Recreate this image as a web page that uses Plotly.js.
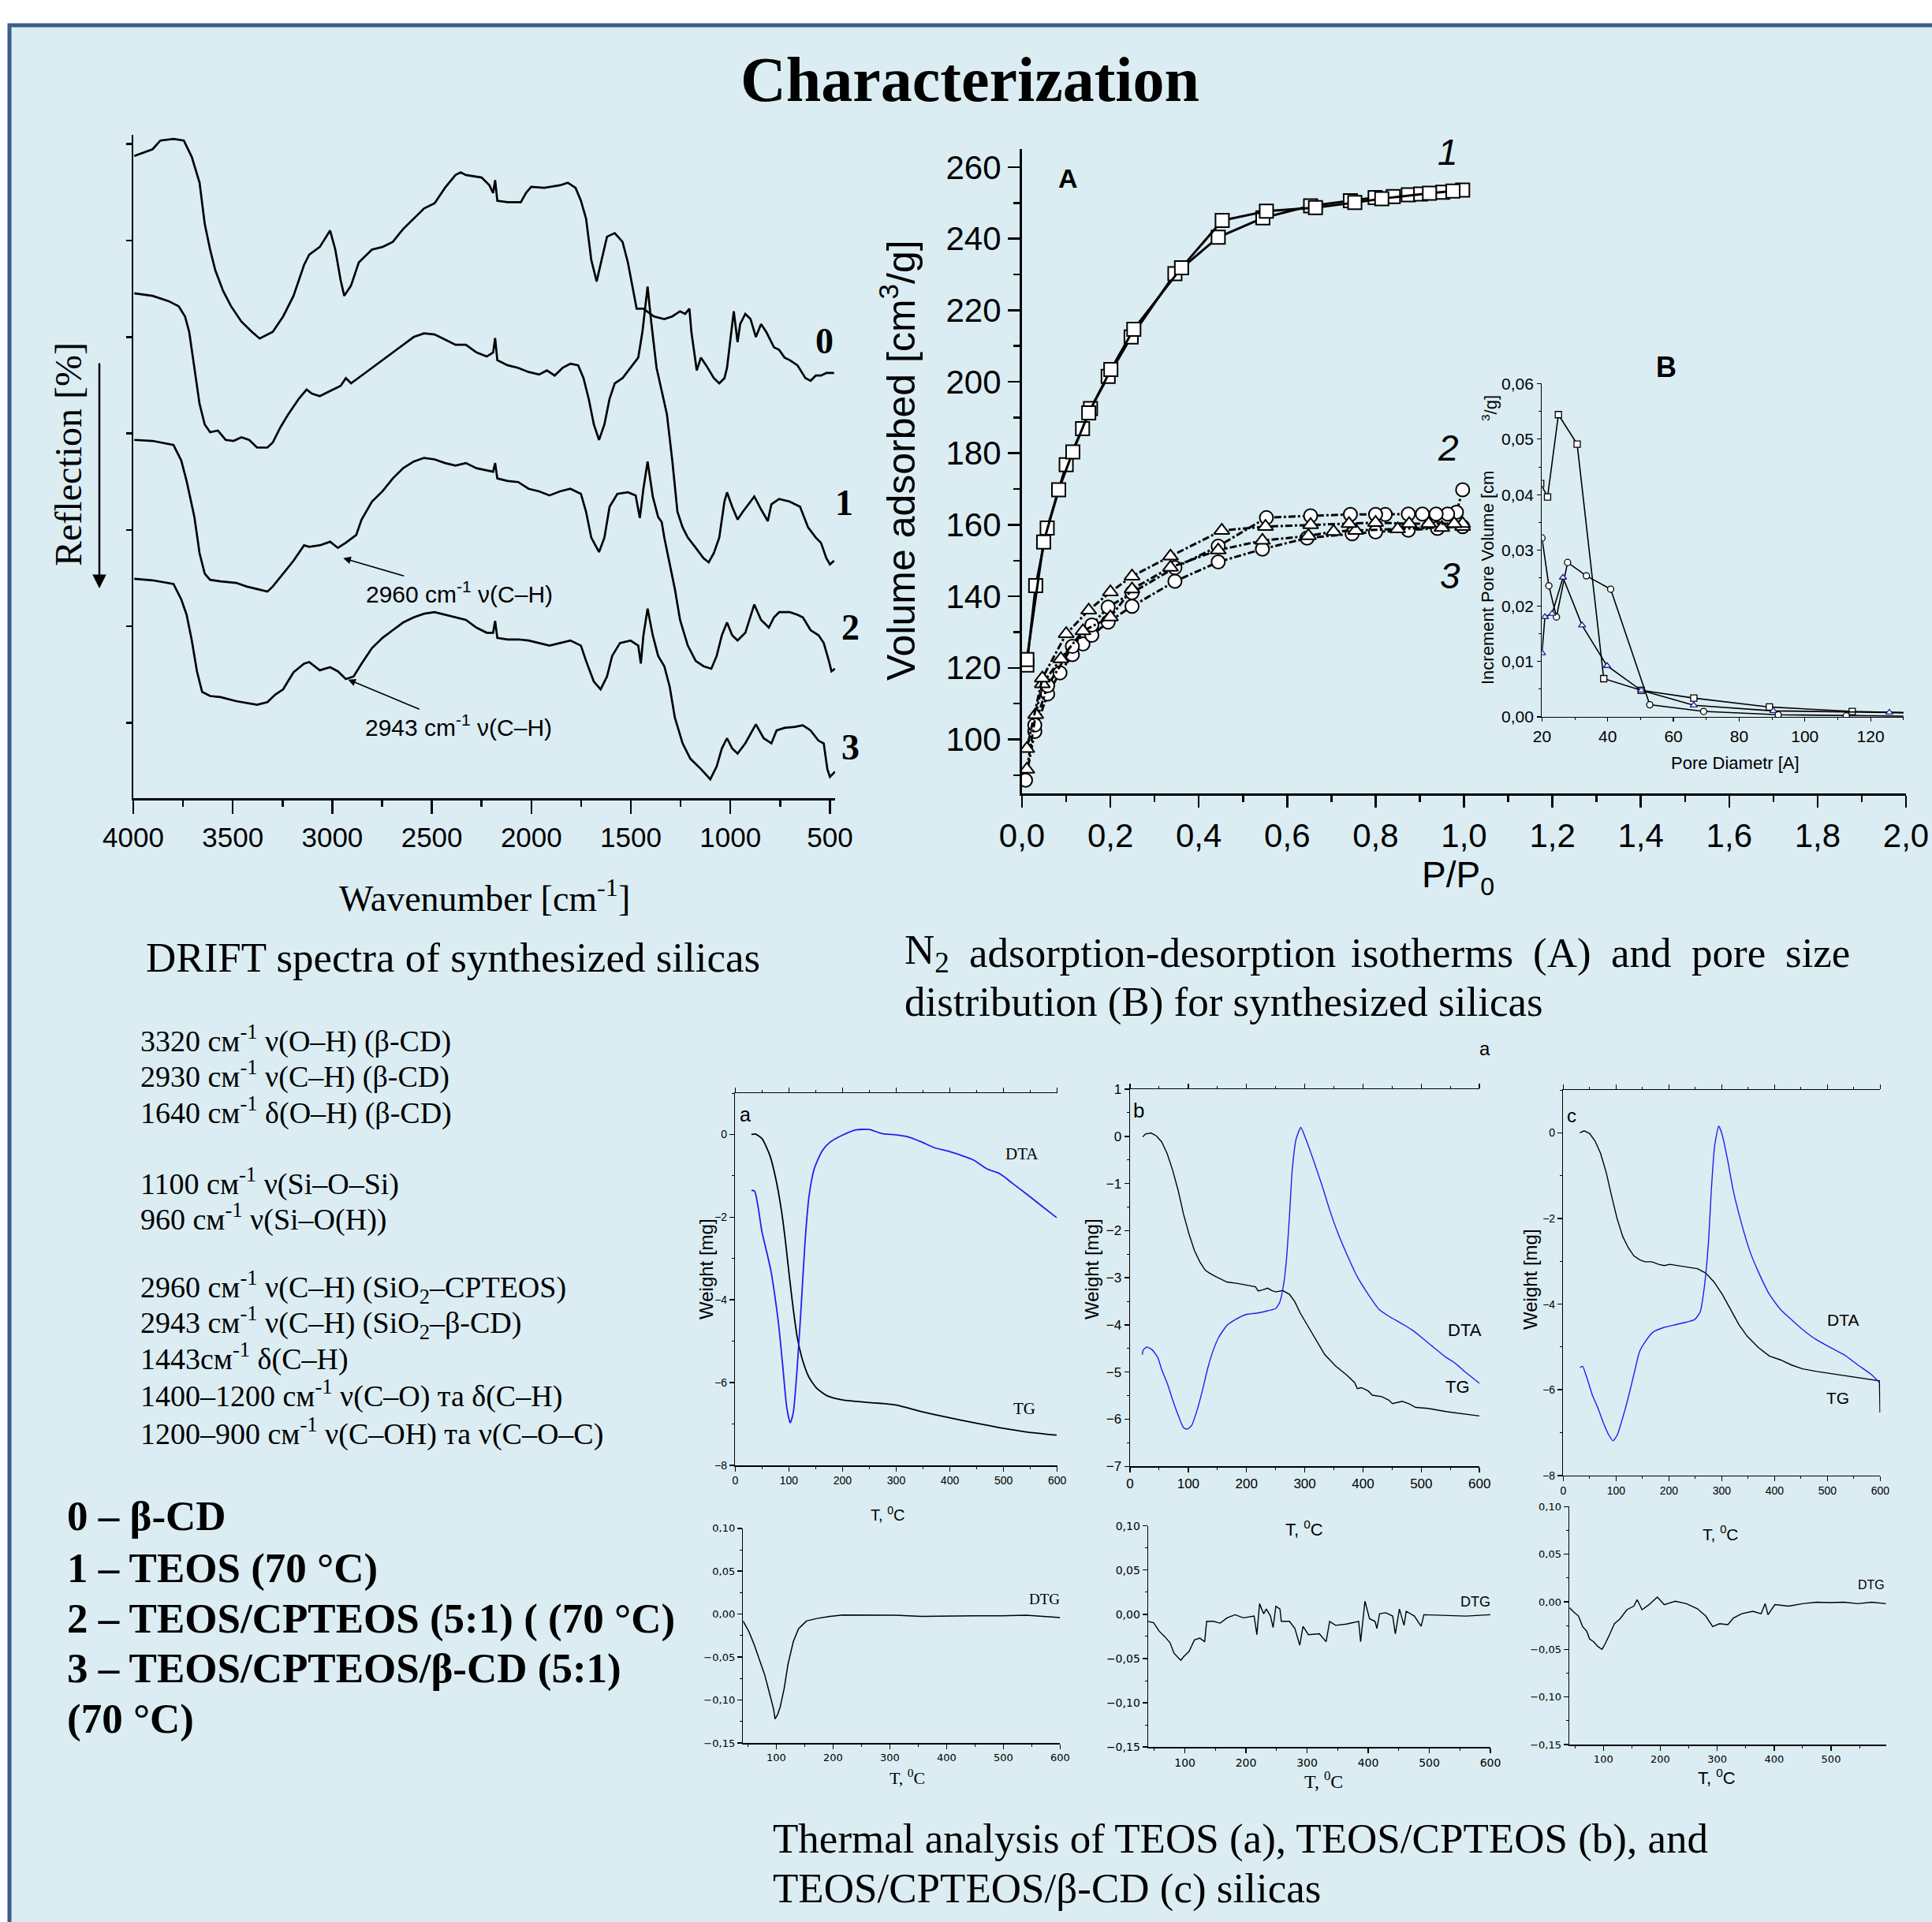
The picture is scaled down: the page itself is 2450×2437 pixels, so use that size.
<!DOCTYPE html>
<html><head><meta charset="utf-8">
<script src="https://cdn.plot.ly/plotly-3.0.1.min.js"></script>
<style>html,body{margin:0;padding:0;background:#fff}#chart{width:2450px;height:2437px}</style>
</head><body><div id="chart"></div>
<script>
// ===== DRIFT spectra (wavenumber, reflection a.u.) =====
const wn0 = [3995,3903,3864,3798,3746,3732,3706,3667,3641,3614,3588,3549,3509,3457,3404,3365,3299,3247,3195,3142,3116,3063,3011,2985,2958,2940,2906,2867,2840,2801,2748,2696,2644,2591,2539,2486,2434,2381,2355,2329,2250,2211,2192,2182,2171,2119,2053,2027,2001,1935,1856,1817,1778,1751,1725,1699,1672,1647,1620,1581,1542,1515,1489,1471,1437,1384,1332,1292,1253,1227,1206,1196,1169,1148,1122,1083,1056,1030,1017,983,964,951,925,899,872,846,820,781,755,728,702,663,623,597,571,545,518,479];
const refl0 = [1249,1262,1279,1282,1279,1267,1247,1197,1117,1067,1027,987,957,927,907,894,907,937,977,1037,1057,1072,1104,1067,1007,977,997,1042,1052,1067,1072,1082,1107,1127,1147,1157,1187,1212,1217,1212,1207,1192,1177,1202,1162,1159,1159,1177,1189,1187,1192,1197,1187,1162,1127,1047,1005,1047,1092,1099,1082,1042,987,952,952,937,932,937,947,942,952,907,832,857,842,817,807,817,837,947,887,922,942,932,897,922,907,877,872,857,852,842,817,812,822,822,827,827];
const wn1 = [3995,3903,3824,3772,3740,3719,3693,3667,3641,3614,3575,3536,3496,3457,3418,3378,3326,3299,3260,3221,3168,3129,3103,3063,3011,2958,2932,2906,2853,2801,2748,2696,2644,2591,2539,2486,2434,2381,2329,2276,2224,2192,2182,2171,2119,2066,2014,1961,1922,1883,1843,1804,1765,1738,1712,1686,1660,1633,1607,1581,1542,1502,1463,1442,1416,1398,1371,1345,1319,1292,1266,1240,1214,1174,1135,1109,1083,1056,1030,1017,991,964,938,899,880,846,812,794,755,702,650,610,571,545,518,500,479];
const refl1 = [982,977,967,957,937,907,837,767,727,712,715,697,695,702,697,682,682,692,722,747,777,795,787,782,792,802,817,807,822,837,852,867,882,897,904,902,892,882,882,867,859,867,895,852,842,837,829,824,832,822,837,845,842,817,777,727,697,727,777,807,817,837,857,907,995,927,837,792,747,657,557,527,507,487,467,459,477,507,577,595,567,542,557,577,587,562,539,572,582,577,567,527,507,497,467,455,462];
const wn2 = [3995,3903,3798,3759,3732,3693,3667,3641,3614,3562,3483,3431,3378,3326,3299,3247,3195,3142,3116,3063,3011,2972,2932,2880,2853,2801,2748,2696,2644,2591,2539,2486,2434,2381,2329,2276,2224,2192,2182,2171,2119,2066,2014,1961,1909,1856,1804,1751,1725,1699,1660,1633,1607,1568,1515,1476,1455,1437,1416,1390,1363,1345,1332,1305,1279,1253,1214,1174,1135,1096,1069,1043,1017,991,964,925,880,846,807,781,755,702,663,636,597,557,531,505,492,474];
const refl2 = [697,695,687,657,617,547,477,437,425,422,419,412,407,402,412,437,462,492,489,492,499,487,497,512,542,577,597,622,642,655,662,659,652,647,652,642,637,635,652,622,617,615,602,597,589,597,602,592,557,507,479,507,567,592,595,589,545,602,655,587,547,537,507,457,407,347,297,267,257,252,277,317,342,317,307,322,377,347,332,352,362,362,357,352,327,317,302,267,247,252];
const wn3 = [3995,3903,3798,3759,3732,3706,3680,3654,3614,3562,3483,3431,3378,3326,3286,3247,3195,3142,3116,3063,3011,2972,2932,2893,2853,2801,2748,2696,2644,2591,2539,2486,2434,2381,2329,2276,2224,2192,2182,2171,2119,2066,2014,1961,1909,1856,1804,1751,1725,1686,1652,1620,1594,1555,1502,1463,1450,1437,1416,1390,1363,1332,1305,1279,1240,1201,1148,1101,1069,1043,1017,991,964,925,872,833,794,768,728,676,636,597,557,531,513,500,474];
const refl3 = [427,424,417,387,357,307,247,207,199,197,189,185,182,187,202,212,245,262,265,249,255,247,232,237,262,292,312,327,342,352,359,362,357,352,347,332,322,322,345,312,309,309,307,302,297,302,307,297,267,227,212,237,277,302,307,297,262,317,369,317,277,257,217,157,107,77,57,37,62,97,117,97,87,107,144,117,107,132,137,139,142,132,112,107,57,42,52];

// ===== N2 isotherms (P/P0, volume cm3/g) =====
const p1a = [0.011,0.031,0.057,0.100,0.137,0.155,0.195,0.247,0.346,0.444,0.545,0.653,0.743,0.799,0.840,0.874,0.902,0.952,0.997];
const v1a = [120.8,143.0,159.1,176.8,186.9,192.5,201.5,212.5,230.2,240.4,245.8,249.2,250.6,251.5,251.8,252.3,252.5,253.0,253.6];
const p1d = [0.975,0.922,0.814,0.753,0.664,0.553,0.453,0.361,0.253,0.201,0.151,0.115,0.083,0.049,0.011];
const v1d = [253.3,252.7,251.2,250.1,248.7,247.7,245.1,231.9,214.7,203.4,191.3,180.4,169.8,155.2,122.3];
const p2a = [0.008,0.029,0.058,0.086,0.114,0.138,0.158,0.195,0.249,0.346,0.444,0.544,0.645,0.747,0.800,0.874,0.940,0.997];
const v2a = [88.6,102.2,112.7,118.6,123.7,126.7,129.1,132.8,137.2,144.2,149.6,153.2,156.3,157.5,158.0,158.5,159.0,159.5];
const p2d = [0.997,0.983,0.963,0.937,0.906,0.874,0.822,0.800,0.743,0.653,0.553,0.444,0.346,0.249,0.195,0.158,0.114,0.058,0.029];
const v2d = [169.8,163.5,163.0,163.0,163.0,163.0,162.9,162.9,162.9,162.5,162.0,154.0,148.0,141.0,137.0,132.0,126.0,115.0,104.0];
const p3a = [0.011,0.031,0.046,0.088,0.138,0.200,0.249,0.336,0.444,0.544,0.648,0.705,0.755,0.850,0.950,0.997];
const v3a = [91.6,106.9,115.5,122.5,130.3,134.2,142.0,148.1,152.9,155.6,156.9,158.1,158.4,158.8,159.2,159.5];
const p3d = [0.997,0.978,0.920,0.876,0.800,0.740,0.653,0.551,0.452,0.336,0.249,0.200,0.151,0.100,0.046,0.011];
const v3d = [160.3,160.3,160.3,160.3,160.6,160.3,160.0,159.5,158.4,151.2,145.6,141.2,136.1,129.5,117.1,97.4];

// ===== Pore size distribution (diameter A, increment volume) =====
const d1 = [19.6,21.7,25.0,30.7,38.8,50.2,66.2,89.2,114.4,135];
const inc1 = [0.0420,0.0396,0.0544,0.0491,0.0069,0.0048,0.0034,0.0018,0.0010,0.0007];
const d2 = [20,22.1,24.4,27.8,33.5,40.9,52.8,69.2,91.9,112.6,140];
const inc2 = [0.0322,0.0236,0.0180,0.0278,0.0254,0.0230,0.0022,0.0010,0.0004,0.0002,0.0001];
const d3 = [20,20.9,23.1,26.4,32.2,39.8,50.2,66.2,90.4,125.7,140];
const inc3 = [0.0115,0.0180,0.0186,0.0251,0.0165,0.0092,0.0048,0.0021,0.0011,0.0008,0.0007];

// ===== Thermal analysis =====
const tA_tg = [30.2,37.5,49.7,64.3,76.5,86.3,93.6,100.9,108.2,115.5,125.3,137.4,152.1,171.6,200.8,249.5,298.3,347.0,395.8,444.5,493.2,542.0,599.0];
const wA_tg = [0,0.01,-0.10,-0.50,-1.13,-1.86,-2.59,-3.44,-4.23,-4.90,-5.45,-5.87,-6.14,-6.32,-6.42,-6.48,-6.54,-6.70,-6.84,-6.97,-7.09,-7.19,-7.27];
const tA_dta = [30.2,36.1,42.4,49.7,59.5,66.8,74.1,81.4,88.7,96.0,102.4,108.2,115.5,122.8,130.1,137.4,147.2,161.8,176.4,200.8,225.2,249.5,273.9,298.3,322.7,347.0,371.4,395.8,420.1,444.5,468.9,493.2,517.6,542.0,566.3,599.0];
const wA_dta = [-1.35,-1.37,-1.74,-2.35,-2.89,-3.32,-3.93,-4.66,-5.63,-6.60,-6.97,-6.72,-5.63,-4.17,-2.59,-1.50,-0.83,-0.40,-0.19,-0.01,0.11,0.12,0.02,-0.01,-0.06,-0.18,-0.32,-0.40,-0.50,-0.62,-0.83,-0.95,-1.19,-1.43,-1.68,-2.01];
const tA_dtg = [41.5,51.6,60.8,70.0,79.3,88.5,95.4,97.7,102.3,106.9,113.8,120.7,130.0,139.2,153.0,171.4,194.5,217.5,263.6,309.7,355.8,401.8,447.9,494.0,540.1,600];
const vA_dtg = [-0.008,-0.020,-0.035,-0.052,-0.070,-0.093,-0.111,-0.122,-0.117,-0.108,-0.087,-0.058,-0.032,-0.017,-0.008,-0.005,-0.0025,-0.001,-0.0013,-0.0013,-0.0025,-0.002,-0.002,-0.002,-0.0013,-0.004];

const tB_tg = [21.9,26.6,35.9,45.2,54.5,63.9,73.2,82.5,91.8,101.2,110.5,119.8,129.1,136.1,147.8,166.4,185.1,203.7,215.4,220.0,227.0,236.4,243.4,250.3,262.0,273.7,283.0,292.3,306.3,320.3,334.3,352.9,371.6,385.5,390.2,397.2,408.9,415.9,432.2,443.8,450.8,467.1,478.8,490.5,511.4,544.1,576.7,600.0];
const wB_tg = [-0.01,0.05,0.07,0.01,-0.12,-0.37,-0.72,-1.14,-1.65,-2.07,-2.42,-2.66,-2.84,-2.90,-2.98,-3.09,-3.12,-3.17,-3.19,-3.28,-3.26,-3.22,-3.27,-3.30,-3.27,-3.35,-3.51,-3.75,-4.05,-4.34,-4.63,-4.87,-5.06,-5.22,-5.35,-5.33,-5.40,-5.49,-5.52,-5.59,-5.67,-5.62,-5.67,-5.75,-5.77,-5.84,-5.89,-5.93];
const tB_dta = [21.0,22.8,28.9,38.2,47.6,54.5,63.9,73.2,82.5,91.8,98.8,105.8,115.1,124.5,133.8,143.1,152.4,166.4,180.4,199.1,217.7,236.4,250.3,257.3,264.3,269.0,273.7,278.3,285.3,293.2,301.6,315.6,329.6,343.5,357.5,373.9,390.2,408.9,427.5,446.2,464.8,483.4,502.1,520.7,539.4,558.0,576.7,600.0];
const wB_dta = [-4.63,-4.53,-4.47,-4.53,-4.69,-4.95,-5.24,-5.59,-5.91,-6.18,-6.21,-6.13,-5.81,-5.38,-4.90,-4.53,-4.26,-4.01,-3.89,-3.78,-3.75,-3.70,-3.65,-3.51,-3.09,-2.55,-1.70,-0.74,-0.05,0.19,-0.05,-0.53,-1.04,-1.59,-2.07,-2.55,-2.98,-3.35,-3.67,-3.83,-3.96,-4.10,-4.28,-4.47,-4.66,-4.81,-5.01,-5.24];
const tB_dtg = [40,48.9,57.8,66.7,75.6,82.2,88.9,93.3,97.8,106.7,115.6,124.4,132.4,135.6,146.7,157.8,168.9,182.2,195.6,213.3,217.8,222.2,228.9,233.3,240.0,244.4,248.9,255.6,257.8,271.1,280.0,288.0,293.3,302.2,320.0,331.1,336.9,346.7,364.4,384.4,387.6,394.7,402.2,411.1,414.2,418.7,428.9,440.0,444.4,451.1,458.7,462.2,475.6,486.7,491.1,528.9,560,600];
const vB_dtg = [-0.008,-0.0096,-0.019,-0.025,-0.032,-0.044,-0.049,-0.052,-0.048,-0.042,-0.029,-0.027,-0.031,-0.008,-0.008,-0.010,-0.004,-0.0005,-0.004,-0.002,-0.023,0.012,0.0006,0.006,-0.002,-0.015,0.009,0.006,-0.008,-0.008,-0.016,-0.035,-0.0136,-0.023,-0.022,-0.031,-0.008,-0.0125,-0.011,-0.008,-0.031,0.0148,-0.005,-0.008,-0.016,0.0006,0.0017,-0.002,-0.022,0.006,-0.0125,0.0034,-0.002,-0.0136,-0.0005,-0.001,-0.002,-0.0005];

const tC_tg = [31.4,39.3,49.7,60.2,70.7,81.2,91.6,102.1,112.6,123.0,133.5,144.0,154.5,167.5,180.6,191.1,201.6,217.3,238.2,253.9,269.6,285.3,301.0,316.8,332.5,348.2,369.1,390.1,411.0,431.9,452.9,479.1,505.2,531.4,557.6,583.8,598.4,599.5];
const wC_tg = [0,0.05,-0.01,-0.19,-0.48,-0.92,-1.48,-2.01,-2.42,-2.68,-2.87,-2.96,-3.01,-3.01,-3.07,-3.10,-3.07,-3.10,-3.15,-3.17,-3.27,-3.48,-3.77,-4.12,-4.48,-4.75,-5.01,-5.21,-5.30,-5.42,-5.51,-5.57,-5.62,-5.66,-5.71,-5.77,-5.79,-6.53];
const tC_dta = [31.4,36.6,44.5,55.0,65.4,75.9,86.4,94.2,102.1,112.6,123.0,133.5,144.0,154.5,170.2,191.1,212.0,233.0,248.7,259.2,267.0,274.9,280.1,286.4,294.2,301.0,311.5,322.0,337.7,353.4,369.1,390.1,411.0,431.9,452.9,479.1,505.2,531.4,557.6,583.8,598.4];
const wC_dta = [-5.48,-5.45,-5.71,-6.12,-6.42,-6.77,-7.06,-7.19,-7.06,-6.65,-6.18,-5.65,-5.12,-4.89,-4.65,-4.54,-4.48,-4.42,-4.36,-4.18,-3.60,-2.54,-1.36,-0.31,0.16,-0.05,-0.66,-1.36,-2.13,-2.77,-3.24,-3.77,-4.12,-4.36,-4.59,-4.83,-5.01,-5.18,-5.42,-5.65,-5.83];
const tC_dtg = [40.7,46.5,56.3,63.5,70.8,75.7,83.0,90.3,97.6,102.4,109.7,119.4,129.2,141.3,153.5,159.3,168.0,180.2,194.8,206.9,226.4,245.8,265.2,279.8,292.0,304.1,318.7,328.4,343.0,362.5,377.0,384.3,389.2,401.3,425.6,449.9,474.2,498.5,522.8,547.1,571.4,596.7];
const vC_dtg = [-0.0062,-0.010,-0.015,-0.026,-0.031,-0.039,-0.042,-0.047,-0.050,-0.045,-0.036,-0.023,-0.018,-0.0083,-0.0046,0.0022,-0.0083,-0.003,0.0049,-0.003,0.0006,-0.002,-0.0073,-0.015,-0.026,-0.023,-0.024,-0.017,-0.0126,-0.010,-0.0126,-0.002,-0.0136,-0.003,-0.0046,-0.002,-0.0004,-0.0009,-0.0004,-0.002,-0.0004,-0.002];

// ===== Text =====
const bandList = [
  "3320 см<sup>-1</sup> ν(O–H) (β-CD)",
  "2930 см<sup>-1</sup> ν(C–H) (β-CD)",
  "1640 см<sup>-1</sup> δ(O–H) (β-CD)",
  "1100 см<sup>-1</sup> ν(Si–O–Si)",
  "960 см<sup>-1</sup> ν(Si–O(H))",
  "2960 см<sup>-1</sup> ν(C–H) (SiO<sub>2</sub>–CPTEOS)",
  "2943 см<sup>-1</sup> ν(C–H) (SiO<sub>2</sub>–β-CD)",
  "1443см<sup>-1</sup> δ(C–H)",
  "1400–1200 см<sup>-1</sup> ν(C–O) та δ(C–H)",
  "1200–900 см<sup>-1</sup> ν(C–OH) та ν(C–O–C)"
];
const sampleList = [
  "0 – β-CD",
  "1 – TEOS (70 °C)",
  "2 – TEOS/CPTEOS (5:1) ( (70 °C)",
  "3 – TEOS/CPTEOS/β-CD (5:1)",
  "(70 °C)"
];

// ===== Layout helpers =====
const W = 2450, H = 2437;
const px = x => x / W;
const py = y => 1 - y / H;
const SERIF = "Liberation Serif, Times New Roman, serif";
const SANS = "Liberation Sans, Arial, sans-serif";
const WIDE = "DejaVu Sans, Verdana, sans-serif";

const annotations = [];
function txt(text, x, y, size, family, opts) {
  annotations.push(Object.assign({
    text: text, x: px(x), y: py(y), xref: 'paper', yref: 'paper',
    showarrow: false, xanchor: 'center', yanchor: 'middle',
    font: {size: size, family: family, color: '#000'}
  }, opts || {}));
}

// Title
txt("<b>Characterization</b>", 1230, 101, 80, SERIF);
// DRIFT
txt("Reflection [%]", 86, 576, 48, SERIF, {textangle: -90});
txt("Wavenumber [cm<sup>-1</sup>]", 614, 1136, 46, SERIF);
txt("<b>0</b>", 1045, 432, 46, SERIF);
txt("<b>1</b>", 1070, 637, 46, SERIF);
txt("<b>2</b>", 1078, 795, 46, SERIF);
txt("<b>3</b>", 1078, 947, 46, SERIF);
annotations.push({x: px(126), y: py(746), ax: px(126), ay: py(459), xref: 'paper', yref: 'paper',
  axref: 'paper', ayref: 'paper', text: '', showarrow: true, arrowhead: 2, arrowsize: 1.4, arrowwidth: 2.5, arrowcolor: '#000'});
annotations.push({x: 2945, y: 467, xref: 'x', yref: 'y', text: "2960 cm<sup>-1</sup> ν(C–H)", showarrow: true,
  ax: 147, ay: 43, arrowhead: 2, arrowsize: 1.2, arrowwidth: 1.6, arrowcolor: '#000', font: {size: 30, family: SANS, color: '#000'}});
annotations.push({x: 2921, y: 231, xref: 'x', yref: 'y', text: "2943 cm<sup>-1</sup> ν(C–H)", showarrow: true,
  ax: 140, ay: 58, arrowhead: 2, arrowsize: 1.2, arrowwidth: 1.6, arrowcolor: '#000', font: {size: 30, family: SANS, color: '#000'}});
// Isotherms
txt("Volume adsorbed [cm<sup>3</sup>/g]", 1139, 584, 50, SANS, {textangle: -90});
txt("P/P<sub>0</sub>", 1849, 1112, 46, SANS);
txt("<b>A</b>", 1354, 226, 34, SANS);
txt("<i>1</i>", 1836, 193, 46, SANS);
txt("<i>2</i>", 1836, 568, 46, SANS);
txt("<i>3</i>", 1839, 730, 46, SANS);
// Inset B
txt("<b>B</b>", 2113, 466, 36, SANS);
txt("Increment Pore Volume [cm", 1886, 733, 22, SANS, {textangle: -90});
txt("<sup>3</sup>/g]", 1889, 518, 22, SANS, {textangle: -90});
txt("Pore Diametr [A]", 2200, 968, 22, SANS);
// Captions
txt("DRIFT spectra of synthesized silicas", 183, 1214, 53, SERIF, {xanchor: 'left'});
const capWords = [["N<sub>2</sub>", 1145], ["adsorption-desorption", 1227], ["isotherms", 1711], ["(A)", 1942], ["and", 2041], ["pore", 2143], ["size", 2262]];
capWords.forEach(w => txt(w[0], w[1], 1208, 53, SERIF, {xanchor: 'left'}));
txt("distribution (B) for synthesized silicas", 1145, 1270, 53, SERIF, {xanchor: 'left'});
const bandY = [1317, 1362, 1408, 1498, 1543, 1632, 1677, 1721, 1767, 1815];
bandList.forEach((t, i) => txt(t, 176, bandY[i], 38, SERIF, {xanchor: 'left'}));
const sampleY = [1922, 1988, 2052, 2115, 2179];
sampleList.forEach((t, i) => txt("<b>" + t + "</b>", 83, sampleY[i], 53, SERIF, {xanchor: 'left'}));
txt("Thermal analysis of TEOS (a), TEOS/CPTEOS (b), and", 978, 2331, 53, SERIF, {xanchor: 'left'});
txt("TEOS/CPTEOS/β-CD (c) silicas", 978, 2394, 53, SERIF, {xanchor: 'left'});
// Thermal a
txt("a", 945, 1413, 25, SANS);
txt("DTA", 1296, 1463, 21, SERIF);
txt("TG", 1299, 1786, 21, SERIF);
txt("Weight [mg]", 895, 1609, 24, SANS, {textangle: -90});
txt("T, <sup>0</sup>C", 1125, 1919, 20, SANS);
txt("DTG", 1324, 2027, 19, SERIF);
txt("T, <sup>0</sup>C", 1150, 2253, 22, SERIF);
// Thermal b
txt("a", 1883, 1329, 24, SANS);
txt("b", 1444, 1408, 26, SANS);
txt("DTA", 1857, 1686, 22, SANS);
txt("TG", 1849, 1758, 22, SANS);
txt("Weight [mg]", 1384, 1609, 24, SANS, {textangle: -90});
txt("T, <sup>0</sup>C", 1654, 1938, 22, SANS);
txt("DTG", 1871, 2031, 18, SANS);
txt("T, <sup>0</sup>C", 1678, 2257, 24, SERIF);
// Thermal c
txt("c", 1993, 1414, 24, SANS);
txt("DTA", 2337, 1673, 21, SANS);
txt("TG", 2330, 1772, 21, SANS);
txt("Weight [mg]", 1940, 1622, 24, SANS, {textangle: -90});
txt("T, <sup>0</sup>C", 2182, 1944, 21, SANS);
txt("DTG", 2373, 2009, 16, SANS);
txt("T, <sup>0</sup>C", 2177, 2253, 22, SANS);

// ===== Traces =====
const traces = [];
function line(x, y, xa, ya, color, width, extra) {
  traces.push(Object.assign({x: x, y: y, xaxis: xa, yaxis: ya, type: 'scatter', mode: 'lines',
    line: {color: color, width: width}, hoverinfo: 'skip', showlegend: false}, extra || {}));
}
[[wn0, refl0], [wn1, refl1], [wn2, refl2], [wn3, refl3]].forEach(s => line(s[0], s[1], 'x', 'y', '#000', 2.7));

function iso(x, y, sym, dash) {
  traces.push({x: x, y: y, xaxis: 'x2', yaxis: 'y2', type: 'scatter', mode: 'lines+markers',
    line: {color: '#000', width: 3, dash: dash},
    marker: {symbol: sym, size: 17, color: '#fff', line: {color: '#000', width: 2}},
    hoverinfo: 'skip', showlegend: false});
}
iso(p2a, v2a, 'circle', 'dashdot');
iso(p2d, v2d, 'circle', 'dashdot');
iso(p3a, v3a, 'triangle-up', 'dashdot');
iso(p3d, v3d, 'triangle-up', 'dashdot');
iso(p1a, v1a, 'square', 'solid');
iso(p1d, v1d, 'square', 'solid');

function psd(x, y, sym, mcol) {
  traces.push({x: x, y: y, xaxis: 'x3', yaxis: 'y3', type: 'scatter', mode: 'lines+markers',
    line: {color: '#000', width: 1.6},
    marker: {symbol: sym, size: 8, color: '#fff', line: {color: mcol, width: 1.3}},
    hoverinfo: 'skip', showlegend: false});
}
psd(d1, inc1, 'square', '#000');
psd(d2, inc2, 'circle', '#000');
psd(d3, inc3, 'triangle-up', '#1c1c8c');

const BLUE = '#1f1ff0';
line(tA_tg, wA_tg, 'x4', 'y4', '#000', 1.8, {line: {color: '#000', width: 1.8, shape: 'spline', smoothing: 0.6}});
line(tA_dta, wA_dta, 'x4', 'y4', BLUE, 1.8, {line: {color: BLUE, width: 1.8, shape: 'spline', smoothing: 0.6}});
line(tA_dtg, vA_dtg, 'x5', 'y5', '#000', 1.5);
line(tB_tg, wB_tg, 'x6', 'y6', '#000', 1.4);
line(tB_dta, wB_dta, 'x6', 'y6', BLUE, 1.4, {line: {color: BLUE, width: 1.4, shape: 'spline', smoothing: 0.5}});
line(tB_dtg, vB_dtg, 'x7', 'y7', '#000', 1.4);
line(tC_tg, wC_tg, 'x8', 'y8', '#000', 1.4);
line(tC_dta, wC_dta, 'x8', 'y8', BLUE, 1.4, {line: {color: BLUE, width: 1.4, shape: 'spline', smoothing: 0.5}});
line(tC_dtg, vC_dtg, 'x9', 'y9', '#000', 1.4);

// ===== Axes =====
function ax(o) {
  return Object.assign({showgrid: false, zeroline: false, showline: true, linecolor: '#000', linewidth: 1.5,
    ticks: 'outside', ticklen: 6, tickwidth: 1.5, tickcolor: '#000', fixedrange: true,
    tickfont: {family: SANS, size: 14, color: '#000'}}, o);
}
const minor = (d, len, w) => ({dtick: d, ticks: 'outside', ticklen: len, tickwidth: w, tickcolor: '#000'});
const layout = {
  width: W, height: H, margin: {l: 0, r: 0, t: 0, b: 0},
  paper_bgcolor: '#ffffff', plot_bgcolor: 'rgba(0,0,0,0)',
  separators: ',.', showlegend: false, hovermode: false,
  annotations: annotations,
  shapes: [{type: 'rect', xref: 'paper', yref: 'paper', x0: px(12), x1: 1.05, y0: -0.05, y1: py(32),
    fillcolor: '#dbedf3', line: {color: '#3b5e8c', width: 5}, layer: 'below'}],
  // DRIFT
  xaxis: ax({domain: [px(169), px(1059)], range: [4000, 474], anchor: 'y', tick0: 0, dtick: 500,
    linewidth: 2.5, ticklen: 17, tickwidth: 2.5, tickfont: {family: SANS, size: 35, color: '#000'},
    minor: minor(250, 8, 2.5)}),
  yaxis: ax({domain: [py(1012.3), py(171)], range: [0, 1290], anchor: 'x', tick0: 147, dtick: 187.5,
    showticklabels: false, linewidth: 2.5, ticklen: 7, tickwidth: 2.5}),
  // Isotherms
  xaxis2: ax({domain: [px(1296), px(2417)], range: [0, 2.0], anchor: 'y2', dtick: 0.2, tickformat: '.1f',
    linewidth: 3, ticklen: 15, tickwidth: 2.5, tickfont: {family: SANS, size: 42, color: '#000'},
    minor: minor(0.1, 8, 2.5)}),
  yaxis2: ax({domain: [py(1005.5), py(189.3)], range: [85, 265], anchor: 'x2', tick0: 0, dtick: 20,
    linewidth: 3, ticklen: 15, tickwidth: 2.5, tickfont: {family: SANS, size: 42, color: '#000'},
    minor: minor(10, 8, 2.5)}),
  // Inset B
  xaxis3: ax({domain: [px(1955.4), px(2413.8)], range: [20, 130], anchor: 'y3', dtick: 20,
    ticklen: 5, tickwidth: 1.2, linewidth: 1.3, tickfont: {family: SANS, size: 21, color: '#000'},
    minor: minor(10, 3, 1)}),
  yaxis3: ax({domain: [py(909.1), py(486.3)], range: [0, 0.06], anchor: 'x3', dtick: 0.01, tickformat: '.2f',
    ticklen: 5, tickwidth: 1.2, linewidth: 1.3, tickfont: {family: SANS, size: 21, color: '#000'},
    minor: minor(0.005, 3, 1)}),
  // Thermal a
  xaxis4: ax({domain: [px(932.4), px(1340.6)], range: [0, 600], anchor: 'y4', dtick: 100, mirror: 'ticks',
    minor: minor(50, 3, 1)}),
  yaxis4: ax({domain: [py(1858), py(1386)], range: [-8, 1], anchor: 'x4', tick0: 0, dtick: 2,
    minor: minor(1, 3, 1)}),
  xaxis5: ax({domain: [px(942.3), px(1344.3)], range: [41.5, 600], anchor: 'y5', tick0: 0, dtick: 100,
    tickfont: {family: WIDE, size: 13, color: '#000'}, minor: minor(50, 3, 1)}),
  yaxis5: ax({domain: [py(2210), py(1937.8)], range: [-0.15, 0.10], anchor: 'x5', dtick: 0.05, tickformat: '.2f',
    tickfont: {family: WIDE, size: 13, color: '#000'}, minor: minor(0.025, 3, 1)}),
  // Thermal b
  xaxis6: ax({domain: [px(1433), px(1876.2)], range: [0, 600], anchor: 'y6', dtick: 100, mirror: 'ticks',
    tickfont: {family: SANS, size: 17, color: '#000'}, minor: minor(50, 3, 1)}),
  yaxis6: ax({domain: [py(1859.3), py(1381)], range: [-7, 1], anchor: 'x6', dtick: 1,
    tickfont: {family: SANS, size: 17, color: '#000'}, minor: minor(0.5, 3, 1)}),
  xaxis7: ax({domain: [px(1456.1), px(1890)], range: [40, 600], anchor: 'y7', tick0: 0, dtick: 100,
    tickfont: {family: WIDE, size: 14, color: '#000'}, minor: minor(50, 3, 1)}),
  yaxis7: ax({domain: [py(2215.2), py(1934.6)], range: [-0.15, 0.10], anchor: 'x7', dtick: 0.05, tickformat: '.2f',
    tickfont: {family: WIDE, size: 14, color: '#000'}, minor: minor(0.025, 3, 1)}),
  // Thermal c
  xaxis8: ax({domain: [px(1982.4), px(2384.4)], range: [0, 600], anchor: 'y8', dtick: 100, mirror: 'ticks',
    minor: minor(50, 3, 1)}),
  yaxis8: ax({domain: [py(1870.8), py(1382.2)], range: [-8, 1], anchor: 'x8', tick0: 0, dtick: 2,
    minor: minor(1, 3, 1)}),
  xaxis9: ax({domain: [px(1990.1), px(2391.8)], range: [40.2, 596.7], anchor: 'y9', tick0: 0, dtick: 100,
    tickfont: {family: WIDE, size: 13, color: '#000'}, minor: minor(50, 3, 1)}),
  yaxis9: ax({domain: [py(2212), py(1910.3)], range: [-0.15, 0.10], anchor: 'x9', dtick: 0.05, tickformat: '.2f',
    tickfont: {family: WIDE, size: 13, color: '#000'}, minor: minor(0.025, 3, 1)})
};

Plotly.newPlot('chart', traces, layout, {staticPlot: true, displayModeBar: false});
</script></body></html>
